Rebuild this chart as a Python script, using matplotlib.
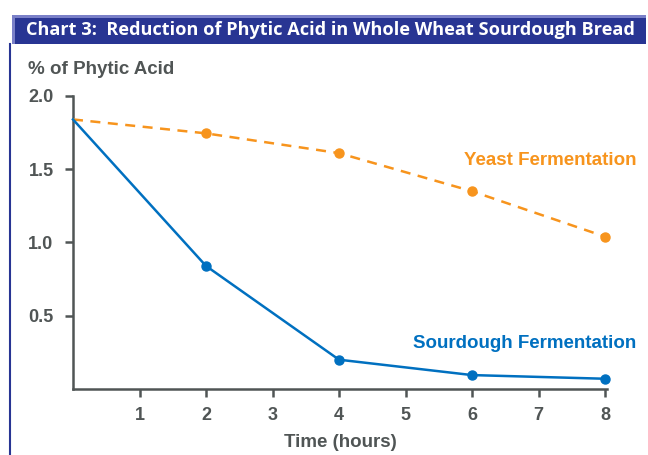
import matplotlib
matplotlib.use("Agg")
import matplotlib.pyplot as plt
from matplotlib.patches import Rectangle
from matplotlib.lines import Line2D

hours = [0, 2, 4, 6, 8]
sourdough = [1.84, 0.84, 0.20, 0.095, 0.07]
yeast = [1.84, 1.745, 1.61, 1.35, 1.04]
xticks = [1, 2, 3, 4, 5, 6, 7, 8]
yticks = [0.5, 1.0, 1.5, 2.0]
ytick_labels = ["0.5", "1.0", "1.5", "2.0"]

title = "Chart 3:  Reduction of Phytic Acid in Whole Wheat Sourdough Bread"

BLUE = "#0070C0"
ORANGE = "#F7941D"
GRAY = "#505555"
NAVY = "#283593"

W, H = 648, 455
fig = plt.figure(figsize=(W / 100, H / 100), dpi=100)
fig.patch.set_facecolor("white")

def fx(px):
    return px / W

def fy(py):
    return 1 - py / H

# Banner
fig.patches.append(Rectangle((fx(12), fy(44)), fx(634), (44 - 15) / H,
                             transform=fig.transFigure, facecolor="#7A80C8",
                             edgecolor="none", zorder=0))
fig.patches.append(Rectangle((fx(15), fy(44)), fx(631), (44 - 18) / H,
                             transform=fig.transFigure, facecolor=NAVY,
                             edgecolor="none", zorder=1))
fig.text(fx(330), fy(30), title, color="white", fontsize=13.1, fontweight="bold",
         family=["Liberation Sans Narrow", "Open Sans", "DejaVu Sans"],
         ha="center", va="center", zorder=2)
# Left vertical rule
fig.lines.append(Line2D([fx(10), fx(10)], [fy(44), 0], transform=fig.transFigure,
                        color=NAVY, linewidth=1.5))

ax = fig.add_axes([fx(73), fy(389), fx(607) - fx(73), (389 - 96) / H])
ax.set_xlim(0, 8.03)
ax.set_ylim(0, 2.0)

ax.plot(hours, yeast, color=ORANGE, linewidth=1.8, linestyle=(0, (4, 3)), zorder=3,
        clip_on=False)
ax.plot(hours[1:], yeast[1:], "o", color=ORANGE, markersize=6.5, zorder=4, clip_on=False)
ax.plot(hours, sourdough, color=BLUE, linewidth=1.8, zorder=3, clip_on=False)
ax.plot(hours[1:], sourdough[1:], "o", color=BLUE, markersize=6.5, zorder=4, clip_on=False)

for s in ["top", "right"]:
    ax.spines[s].set_visible(False)
for s in ["left", "bottom"]:
    ax.spines[s].set_color(GRAY)
    ax.spines[s].set_linewidth(1.8)

font = ["Liberation Sans", "DejaVu Sans"]
FS = 13.5
ax.set_xticks(xticks)
ax.set_xticklabels([str(t) for t in xticks], fontsize=13, fontweight="bold",
                   color=GRAY, family=font)
ax.set_yticks(yticks)
ax.set_yticklabels(ytick_labels, fontsize=13, fontweight="bold", color=GRAY, family=font)
ax.tick_params(axis="both", direction="out", color=GRAY, width=1.8, length=6)
ax.tick_params(axis="x", pad=7)
ax.tick_params(axis="y", pad=8)

ax.set_xlabel("Time (hours)", fontsize=FS, fontweight="bold", color=GRAY,
              family=font, labelpad=7)
fig.text(fx(28), fy(69), "% of Phytic Acid", fontsize=FS, fontweight="bold",
         color=GRAY, family=font, ha="left", va="center")

fig.text(fx(636), fy(160), "Yeast Fermentation", fontsize=FS, fontweight="bold",
         color=ORANGE, family=font, ha="right", va="center")
fig.text(fx(636), fy(344), "Sourdough Fermentation", fontsize=FS, fontweight="bold",
         color=BLUE, family=font, ha="right", va="center")

fig.savefig("out.png", dpi=100)
